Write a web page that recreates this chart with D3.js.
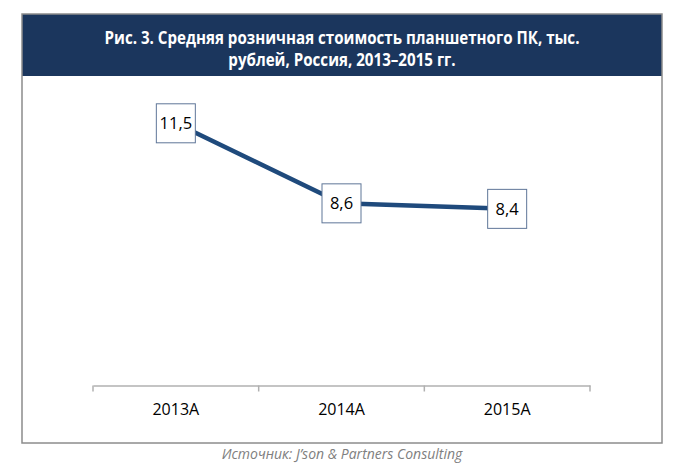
<!DOCTYPE html>
<html><head><meta charset="utf-8">
<script src="https://cdn.jsdelivr.net/npm/d3@7"></script>
<style>body{margin:0;background:#fff;}svg{display:block;}</style>
</head><body>
<svg id="c" width="685" height="470"></svg>
<script>
const categories = ["2013A", "2014A", "2015A"];
const values = [11.5, 8.6, 8.4];
const valueLabels = ["11,5", "8,6", "8,4"];
const titleLines = ["Рис. 3. Средняя розничная стоимость планшетного ПК, тыс.", "рублей, Россия, 2013–2015 гг."];
const sourceText = "Источник: J’son & Partners Consulting";

const svg = d3.select("#c");
const font = "'Open Sans', 'Noto Sans', sans-serif";

// frame
svg.append("rect").attr("x", 22).attr("y", 14).attr("width", 640).attr("height", 62).attr("fill", "#1b365d");
svg.append("rect").attr("x", 22).attr("y", 14).attr("width", 640).attr("height", 429)
  .attr("fill", "none").attr("stroke", "#8c8c8c").attr("stroke-width", 1.5);

const tl = svg.append("g").selectAll("text").data(titleLines).join("text")
  .attr("x", 342).attr("y", (d, i) => 44 + i * 22)
  .attr("text-anchor", "middle").attr("fill", "#fff")
  .attr("font-family", font)
  .attr("font-weight", "bold").attr("font-size", 18)
  .text(d => d);
// condense title to a narrow face look
tl.each(function () {
  const w = this.getComputedTextLength();
  d3.select(this).attr("textLength", w * 0.84).attr("lengthAdjust", "spacingAndGlyphs");
});

const x = d3.scaleBand().domain(categories).range([93, 590]);
const y = d3.scaleLinear().domain([2, 12]).range([385.5, 109.5]);

const xAxis = d3.axisBottom(x).tickSize(0).tickPadding(18);
const gx = svg.append("g").attr("transform", "translate(0,385.5)").call(xAxis);
gx.select(".domain").attr("stroke", "#b0b0b0").attr("stroke-width", 1.5);
gx.selectAll("text").attr("font-family", font).attr("font-size", 16).attr("fill", "#000");
// category boundary ticks
const bounds = categories.map(c => x(c)).concat([x.range()[1]]);
gx.selectAll(".bt").data(bounds).join("line").attr("class", "bt")
  .attr("x1", d => d).attr("x2", d => d).attr("y1", 0).attr("y2", 6)
  .attr("stroke", "#b0b0b0").attr("stroke-width", 1.5);

const cx = d => x(d) + x.bandwidth() / 2;
const line = d3.line().x((d, i) => cx(categories[i])).y(d => y(d));
svg.append("path").datum(values).attr("d", line)
  .attr("fill", "none").attr("stroke", "#1f4a7c").attr("stroke-width", 4.5);

const lab = svg.append("g").selectAll("g").data(values).join("g")
  .attr("transform", (d, i) => `translate(${cx(categories[i])},${y(d)})`);
lab.append("rect").attr("x", -19.5).attr("y", -19.5).attr("width", 39).attr("height", 39)
  .attr("fill", "#fff").attr("stroke", "#5f7698").attr("stroke-width", 1);
lab.append("text").attr("text-anchor", "middle").attr("dy", "0.36em")
  .attr("font-family", font).attr("font-size", 16.5).attr("fill", "#000")
  .text((d, i) => valueLabels[i]);

svg.append("text").attr("x", 342).attr("y", 459).attr("text-anchor", "middle")
  .attr("font-family", font).attr("font-style", "italic").attr("font-size", 14)
  .attr("fill", "#808080").text(sourceText);
</script>
</body></html>
